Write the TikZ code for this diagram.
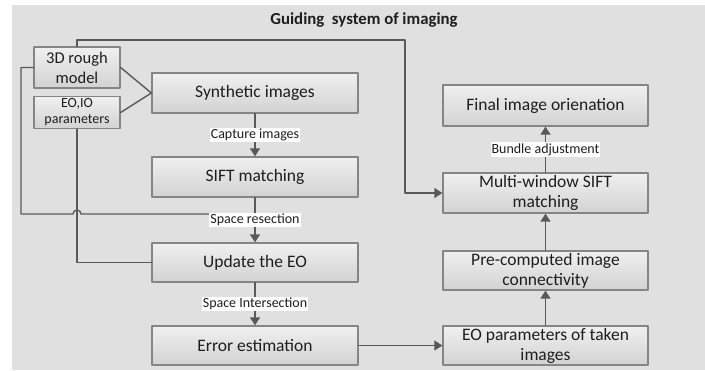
\documentclass[tikz,border=0pt]{standalone}
\usepackage{fontspec}
\setmainfont{Carlito}
\usetikzlibrary{arrows.meta}
\definecolor{bggray}{HTML}{E0E0E0}
\definecolor{boxline}{HTML}{858585}
\definecolor{conn}{HTML}{595959}
\definecolor{txt}{HTML}{1E1E1E}
\begin{document}
\begin{tikzpicture}[line cap=round,line join=round,x=1pt,y=-1pt,
  box/.style={draw=boxline,line width=1.3pt,top color=gray!12,bottom color=gray!35,
    minimum width=206pt,minimum height=40pt,align=center,inner sep=1pt,
    text=txt,font=\fontsize{17.5}{20}\selectfont},
  sbox/.style={box,minimum width=86pt},
  lbl/.style={fill=white,inner sep=1pt,text=txt,font=\fontsize{14}{16}\selectfont},
  line/.style={draw=conn,line width=1.4pt},
  arr/.style={line,-{Triangle[width=10pt,length=8pt]}}]
\useasboundingbox (0,0) rectangle (705,370);
\fill[bggray] (12,5) rectangle (705,370);
\node[font=\bfseries\fontsize{16.8}{19}\selectfont,text=txt] (title) at (364,20) {Guiding \ system of imaging};
% left column
\node[sbox,minimum height=41pt,font=\fontsize{16.5}{20}\selectfont] (rough) at (77,67.5) {3D rough\\model};
\node[sbox,minimum height=32pt,font=\fontsize{14}{16}\selectfont] (eoio) at (77,112.5) {EO,IO\\parameters};
\node[box] (synth) at (255,93) {Synthetic images};
\node[box] (sift) at (255,177) {SIFT matching};
\node[box,minimum height=39pt] (update) at (255,262.5) {Update the EO};
\node[box,minimum height=39pt] (error) at (255,345.5) {Error estimation};
% right column
\node[box,minimum width=205pt,minimum height=41pt] (final) at (545.5,105.5) {Final image orienation};
\node[box,minimum width=205pt] (multi) at (545.5,193) {Multi-window SIFT\\matching};
\node[box,minimum width=205pt,minimum height=39pt] (precomp) at (545.5,270.5) {Pre-computed image\\connectivity};
\node[box,minimum width=205pt,minimum height=39pt] (taken) at (545.5,345.5) {EO parameters of taken\\images};
\coordinate (corner) at (405,40);
\coordinate (res) at (255,214);
% connectors
\draw[line] (rough.east) -- (synth.west);
\draw[line] (eoio.east) -- (synth.west);
\draw[line] (rough.west) -| (21,214) -- (73,214) arc (180:360:4) -- (res);
\draw[line] (eoio.south) |- (update.west);
\draw[arr] (rough.north) |- (corner) |- (multi.west);
\draw[arr] (synth) -- node[lbl] {Capture images} (sift);
\draw[arr] (sift) -- node[lbl] {Space resection} (update);
\draw[arr] (update) -- node[lbl] {Space Intersection} (error);
\draw[arr] (error) -- (taken);
\draw[arr] (taken) -- (precomp);
\draw[arr] (precomp) -- (multi);
\draw[arr] (multi) -- node[lbl] {Bundle adjustment} (final);
\end{tikzpicture}
\end{document}
